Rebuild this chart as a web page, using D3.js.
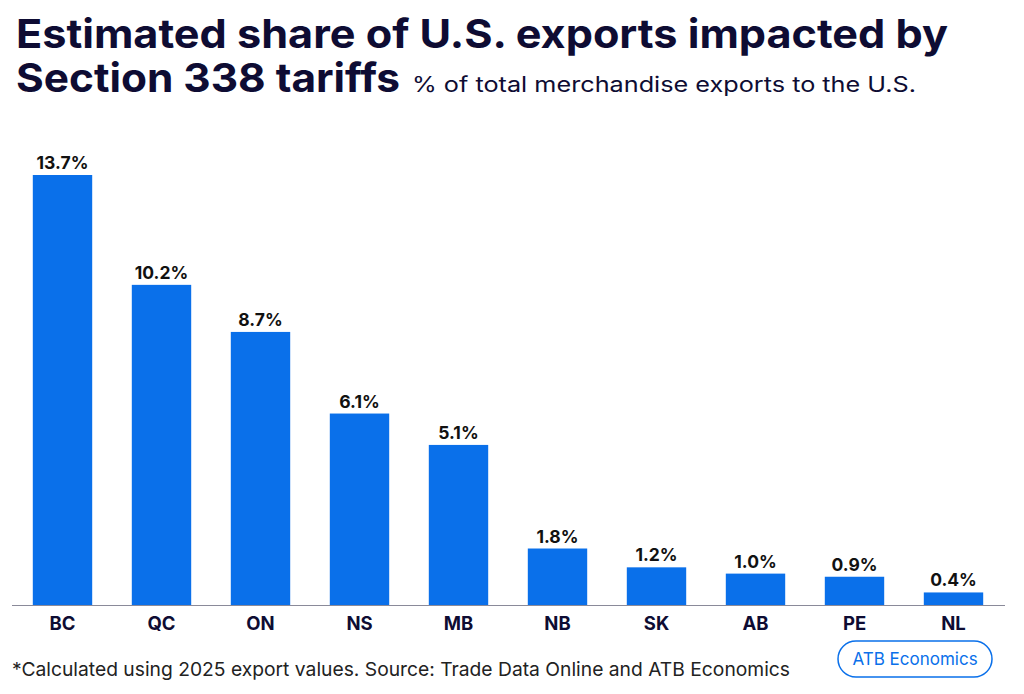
<!DOCTYPE html>
<html><head><meta charset="utf-8">
<script src="https://cdn.jsdelivr.net/npm/d3@7"></script>
<style>body{margin:0;background:#fff}</style></head>
<body><svg id="c" width="1024" height="694"></svg>
<script>
const categories=["BC","QC","ON","NS","MB","NB","SK","AB","PE","NL"];
const values=[13.7,10.2,8.7,6.1,5.1,1.8,1.2,1.0,0.9,0.4];
const svg=d3.select("#c");
const navy="#0e0c33", blue="#0a70ea";
const x=d3.scaleBand().domain(categories).range([13,1003]).paddingInner(0.4).paddingOuter(0.2);
const y=d3.scaleLinear().domain([0,13.7]).range([605,175]);
svg.append("text").attr("x",16).attr("y",48).attr("font-family","Inter").attr("font-weight",700).attr("font-size",40).attr("fill",navy).attr("textLength",932).attr("lengthAdjust","spacingAndGlyphs").text("Estimated share of U.S. exports impacted by");
svg.append("text").attr("x",16).attr("y",92).attr("font-family","Inter").attr("font-weight",700).attr("font-size",40).attr("fill",navy).attr("textLength",384).attr("lengthAdjust","spacingAndGlyphs").text("Section 338 tariffs");
svg.append("text").attr("x",412).attr("y",92).attr("font-family","Inter").attr("font-size",21).attr("fill",navy).attr("textLength",504).attr("lengthAdjust","spacingAndGlyphs").text("% of total merchandise exports to the U.S.");
svg.selectAll("rect.b").data(categories).join("rect").attr("class","b")
 .attr("x",d=>x(d)).attr("width",x.bandwidth())
 .attr("y",(d,i)=>y(values[i])).attr("height",(d,i)=>y(0)-y(values[i])).attr("fill",blue);
svg.selectAll("text.v").data(categories).join("text").attr("class","v")
 .attr("x",d=>x(d)+x.bandwidth()/2).attr("y",(d,i)=>y(values[i])-6)
 .attr("text-anchor","middle").attr("font-family","Inter").attr("font-weight",700).attr("font-size",17.5).attr("fill","#111")
 .text((d,i)=>values[i].toFixed(1)+"%");
const ax=svg.append("g").attr("transform","translate(0,605)").call(d3.axisBottom(x).tickSize(0).tickPadding(12));
ax.select(".domain").attr("stroke","#8a8a99").attr("d","M12,0.5H1005");
ax.selectAll("text").attr("font-family","Inter").attr("font-weight",700).attr("font-size",18.5).attr("fill",navy);
svg.append("text").attr("x",12).attr("y",676).attr("font-family","Inter").attr("font-size",19).attr("fill","#222").attr("textLength",778).attr("lengthAdjust","spacingAndGlyphs")
 .text("*Calculated using 2025 export values. Source: Trade Data Online and ATB Economics");
svg.append("rect").attr("x",838).attr("y",641).attr("width",154).attr("height",36).attr("rx",18).attr("fill","#fff").attr("stroke",blue).attr("stroke-width",1.5);
svg.append("text").attr("x",915).attr("y",665).attr("text-anchor","middle").attr("font-family","Inter").attr("font-size",17).attr("fill",blue).text("ATB Economics");
</script></body></html>
